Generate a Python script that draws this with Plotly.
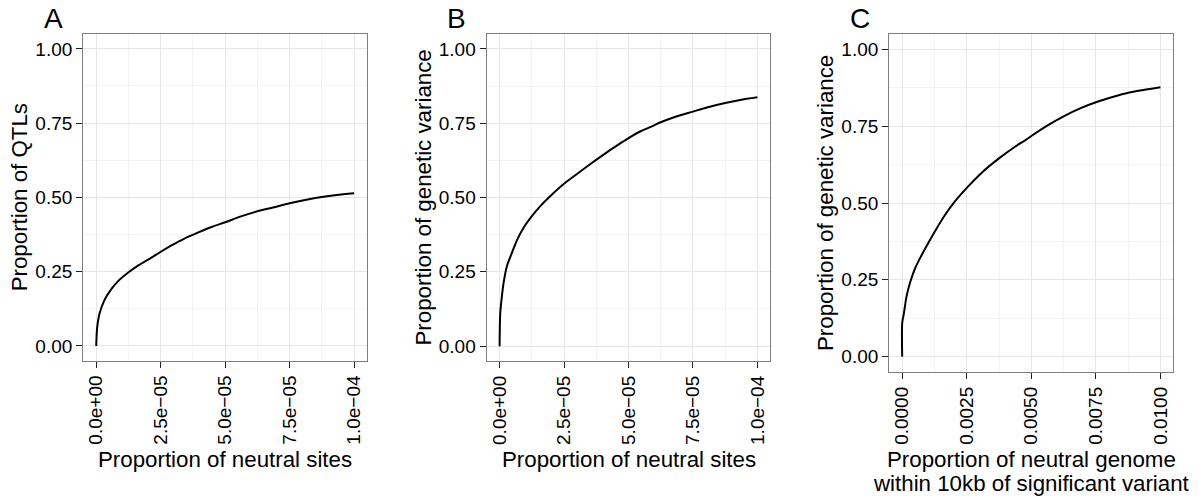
import plotly.graph_objects as go

W, H = 1199, 496
FONT = "Liberation Sans, Arial, Helvetica, sans-serif"

# ---------------- data ----------------
# Panel A: proportion of QTLs vs proportion of neutral sites
a_x = [0.0, 0.2e-6, 0.4e-6, 1.3e-6, 3.2e-6, 5.8e-6, 8.4e-6, 12.3e-6, 16.2e-6, 21.4e-6,
       24.9e-6, 29.2e-6, 34.4e-6, 39.6e-6, 44.7e-6, 50.0e-6, 55.8e-6, 62.5e-6, 68.6e-6,
       75.0e-6, 81.5e-6, 87.4e-6, 93.2e-6, 100.0e-6]
a_y = [0.0, 0.040, 0.064, 0.109, 0.154, 0.190, 0.217, 0.246, 0.270, 0.297,
       0.316, 0.338, 0.362, 0.382, 0.400, 0.416, 0.435, 0.453, 0.466,
       0.480, 0.492, 0.501, 0.508, 0.514]

# Panel B: proportion of genetic variance vs proportion of neutral sites
b_x = [0.0, 0.26e-6, 0.9e-6, 1.55e-6, 2.84e-6, 4.78e-6, 6.72e-6, 9.3e-6, 12.5e-6, 15.8e-6,
       19.6e-6, 25.1e-6, 30.0e-6, 35.1e-6, 41.6e-6, 46.8e-6, 50.0e-6, 54.5e-6, 59.7e-6,
       62.5e-6, 67.4e-6, 75.0e-6, 80.4e-6, 87.5e-6, 93.3e-6, 100.0e-6]
b_y = [0.0, 0.112, 0.168, 0.213, 0.269, 0.314, 0.356, 0.398, 0.437, 0.471,
       0.504, 0.547, 0.579, 0.612, 0.652, 0.682, 0.700, 0.722, 0.742,
       0.753, 0.769, 0.789, 0.803, 0.818, 0.828, 0.837]

# Panel C: proportion of genetic variance vs neutral genome within 10kb
c_x = [0.0, 0.0, 0.065e-3, 0.168e-3, 0.297e-3, 0.49e-3, 0.75e-3, 1.01e-3, 1.27e-3, 1.65e-3,
       2.04e-3, 2.51e-3, 3.07e-3, 3.76e-3, 4.37e-3, 4.76e-3, 5.0e-3, 5.6e-3, 6.27e-3,
       6.89e-3, 7.5e-3, 8.18e-3, 8.76e-3, 9.34e-3, 10.0e-3]
c_y = [0.0, 0.109, 0.141, 0.196, 0.239, 0.286, 0.330, 0.370, 0.408, 0.460,
       0.505, 0.550, 0.598, 0.646, 0.683, 0.704, 0.718, 0.751, 0.783,
       0.808, 0.828, 0.846, 0.859, 0.868, 0.877]

y_ticks = [0.0, 0.25, 0.5, 0.75, 1.0]
y_ticktext = ["0.00", "0.25", "0.50", "0.75", "1.00"]
ab_xticks = [0.0, 2.5e-5, 5.0e-5, 7.5e-5, 1.0e-4]
ab_xticktext = ["0.0e+00", "2.5e\u221205", "5.0e\u221205", "7.5e\u221205", "1.0e\u221204"]
c_xticks = [0.0, 0.0025, 0.005, 0.0075, 0.01]
c_xticktext = ["0.0000", "0.0025", "0.0050", "0.0075", "0.0100"]

panel_labels = ["A", "B", "C"]
y_titles = ["Proportion of QTLs", "Proportion of genetic variance", "Proportion of genetic variance"]
x_titles = [["Proportion of neutral sites"], ["Proportion of neutral sites"],
            ["Proportion of neutral genome", "within 10kb of significant variant"]]

# ---------------- layout geometry (pixels) ----------------
panels = [
    dict(l=83.3, r=367.0, t=34.0, b=360.7),
    dict(l=486.7, r=770.3, t=34.0, b=361.0),
    dict(l=889.3, r=1173.3, t=34.0, b=372.0),
]

fig = go.Figure()

series = [(a_x, a_y), (b_x, b_y), (c_x, c_y)]
for i, (xs, ys) in enumerate(series):
    sfx = "" if i == 0 else str(i + 1)
    fig.add_trace(go.Scatter(x=xs, y=ys, mode="lines",
                             line=dict(color="black", width=2, shape="spline", smoothing=0.8),
                             xaxis="x" + sfx, yaxis="y" + sfx, showlegend=False,
                             cliponaxis=True))

TICKSIZE = 19

def xaxis_cfg(p, anchor, rng, tv, tt, minor_vals):
    return dict(
        domain=[p["l"] / W, p["r"] / W], anchor=anchor, range=rng,
        tickmode="array", tickvals=tv, ticktext=tt, tickangle=-90,
        ticks="outside", ticklen=6, tickwidth=1.3, tickcolor="#222222",
        tickfont=dict(family=FONT, size=TICKSIZE, color="black"),
        showline=True, mirror=True, linecolor="#7f7f7f", linewidth=1.3,
        showgrid=True, gridcolor="#e6e6e6", gridwidth=1.2, zeroline=False,
        minor=dict(tickmode="array", tickvals=minor_vals, showgrid=True,
                   gridcolor="#f4f4f4", gridwidth=1, ticks=""),
        fixedrange=True,
    )

def yaxis_cfg(p, anchor):
    return dict(
        domain=[1 - p["b"] / H, 1 - p["t"] / H], anchor=anchor, range=[-0.05, 1.05],
        tickmode="array", tickvals=y_ticks, ticktext=y_ticktext,
        ticks="outside", ticklen=6, tickwidth=1.3, tickcolor="#222222",
        tickfont=dict(family=FONT, size=TICKSIZE, color="black"),
        showline=True, mirror=True, linecolor="#7f7f7f", linewidth=1.3,
        showgrid=True, gridcolor="#e6e6e6", gridwidth=1.2, zeroline=False,
        minor=dict(tickmode="array", tickvals=[0.125, 0.375, 0.625, 0.875], showgrid=True,
                   gridcolor="#f4f4f4", gridwidth=1, ticks=""),
        fixedrange=True,
    )

ab_minor = [1.25e-5, 3.75e-5, 6.25e-5, 8.75e-5]
c_minor = [0.00125, 0.00375, 0.00625, 0.00875]

fig.update_layout(
    xaxis=xaxis_cfg(panels[0], "y", [-0.05e-4, 1.05e-4], ab_xticks, ab_xticktext, ab_minor),
    yaxis=yaxis_cfg(panels[0], "x"),
    xaxis2=xaxis_cfg(panels[1], "y2", [-0.05e-4, 1.05e-4], ab_xticks, ab_xticktext, ab_minor),
    yaxis2=yaxis_cfg(panels[1], "x2"),
    xaxis3=xaxis_cfg(panels[2], "y3", [-0.0005, 0.0105], c_xticks, c_xticktext, c_minor),
    yaxis3=yaxis_cfg(panels[2], "x3"),
)

annotations = []
def px_ann(text, x, y, size, angle=0):
    annotations.append(dict(text=text, x=x / W, y=1 - y / H, xref="paper", yref="paper",
                            xanchor="center", yanchor="middle", showarrow=False,
                            textangle=angle, font=dict(family=FONT, size=size, color="black")))

label_pos = [(53.5, 18.5), (456.7, 18.5), (860.0, 18.5)]
ytitle_x = [19.0, 423.0, 825.0]
for i, p in enumerate(panels):
    px_ann(panel_labels[i], label_pos[i][0], label_pos[i][1], 28)
    px_ann(y_titles[i], ytitle_x[i], (p["t"] + p["b"]) / 2, 22.3, angle=-90)
    cx = (p["l"] + p["r"]) / 2
    lines = x_titles[i]
    for j, line in enumerate(lines):
        px_ann(line, cx, 459 + j * 24, 22.3)

fig.update_layout(
    annotations=annotations,
    width=W, height=H,
    margin=dict(l=0, r=0, t=0, b=0),
    paper_bgcolor="white", plot_bgcolor="white",
    font=dict(family=FONT, color="black"),
)

fig.write_html("out.html", config={"displayModeBar": False})
